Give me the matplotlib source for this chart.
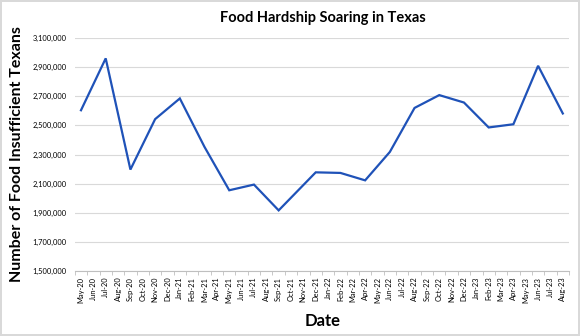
import matplotlib.pyplot as plt
from matplotlib.ticker import FuncFormatter, FixedLocator

plt.rcParams['font.family'] = ['Lato', 'DejaVu Sans']

months = ['May-20', 'Jun-20', 'Jul-20', 'Aug-20', 'Sep-20', 'Oct-20', 'Nov-20', 'Dec-20',
          'Jan-21', 'Feb-21', 'Mar-21', 'Apr-21', 'May-21', 'Jun-21', 'Jul-21', 'Aug-21',
          'Sep-21', 'Oct-21', 'Nov-21', 'Dec-21', 'Jan-22', 'Feb-22', 'Mar-22', 'Apr-22',
          'May-22', 'Jun-22', 'Jul-22', 'Aug-22', 'Sep-22', 'Oct-22', 'Nov-22', 'Dec-22',
          'Jan-23', 'Feb-23', 'Mar-23', 'Apr-23', 'May-23', 'Jun-23', 'Jul-23', 'Aug-23']

# survey months that have an estimate
survey_months = ['May-20', 'Jul-20', 'Sep-20', 'Nov-20', 'Jan-21', 'Mar-21', 'May-21',
                 'Jul-21', 'Sep-21', 'Dec-21', 'Feb-22', 'Apr-22', 'Jun-22', 'Aug-22',
                 'Oct-22', 'Dec-22', 'Feb-23', 'Apr-23', 'Jun-23', 'Aug-23']
insufficient = [2604000, 2960000, 2197000, 2543000, 2685000, 2352000, 2055000,
                2094000, 1917000, 2178000, 2174000, 2123000, 2318000, 2620000,
                2708000, 2657000, 2486000, 2508000, 2909000, 2582000]

y_ticks = list(range(1500000, 3100001, 200000))

x = [months.index(m) for m in survey_months]

fig = plt.figure(figsize=(5.8, 3.36), dpi=100)
fig.patch.set_edgecolor('#d9d9d9')
fig.patch.set_linewidth(1.5)
ax = fig.add_axes([0.129, 0.193, 0.852, 0.694])

ax.plot(x, insufficient, color='#1f52b8', lw=1.6, solid_joinstyle='miter')

ax.set_xlim(-0.5, len(months) - 0.5)
ax.set_ylim(y_ticks[0], y_ticks[-1])
ax.yaxis.set_major_locator(FixedLocator(y_ticks))
ax.yaxis.set_major_formatter(FuncFormatter(lambda v, p: f'{int(v):,}'))
ax.grid(axis='y', color='#d9d9d9', lw=0.8)
ax.set_axisbelow(True)

ax.set_xticks(range(len(months)))
ax.set_xticklabels(months, rotation=90, fontsize=5.4)
ax.xaxis.set_minor_locator(FixedLocator([i - 0.5 for i in range(len(months) + 1)]))
ax.tick_params(axis='x', which='major', length=0, pad=4)
ax.tick_params(axis='x', which='minor', length=3, color='#bfbfbf', width=0.6)
ax.tick_params(axis='y', length=0, labelsize=5.4, pad=6)

for s in ['top', 'right', 'left']:
    ax.spines[s].set_visible(False)
ax.spines['bottom'].set_color('#bfbfbf')
ax.spines['bottom'].set_linewidth(0.8)

fig.text(0.557, 0.945, 'Food Hardship Soaring in Texas', ha='center', va='center',
         fontsize=10.5, fontweight='bold')
fig.text(0.557, 0.045, 'Date', ha='center', va='center', fontsize=12, fontweight='bold')
fig.text(0.03, 0.54, 'Number of Food Insufficient Texans', ha='center', va='center',
         rotation=90, fontsize=11.5, fontweight='bold')

fig.savefig('out.png', dpi=100)
